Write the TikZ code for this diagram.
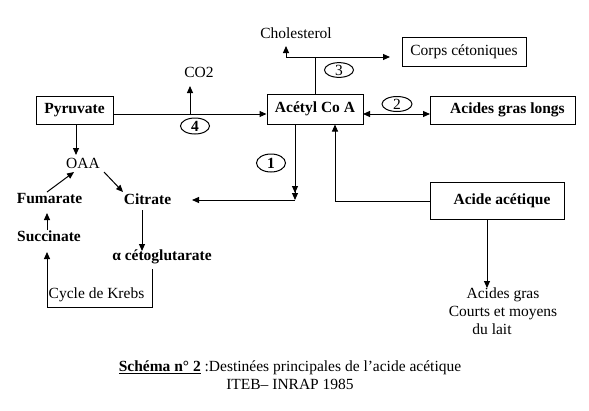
\documentclass[tikz,border=0pt]{standalone}
\usepackage{fontspec}
\setmainfont{Liberation Serif}
\usetikzlibrary{arrows.meta,calc,shapes.geometric}
\begin{document}
\begin{tikzpicture}[x=1pt,y=-1pt,
  every node/.style={font=\fontsize{15.5}{18}\selectfont, inner sep=0pt},
  box/.style={draw, line width=1pt},
  bt/.style={font=\fontsize{15.5}{18}\selectfont\bfseries},
  num/.style={draw, ellipse, line width=1pt, minimum width=29pt, minimum height=16pt},
  arr/.style={line width=1pt, -{Triangle[length=7pt,width=6pt]}},
  darr/.style={line width=1pt, {Triangle[length=7pt,width=6pt]}-{Triangle[length=7pt,width=6pt]}},
  ln/.style={line width=1pt}]
\useasboundingbox (0,0) rectangle (589,410);
\fill[white] (0,0) rectangle (589,410);
% boxes
\node[box,bt,minimum width=77pt,minimum height=28pt] (pyr) at (74.5,110) {Pyruvate};
\node[box,bt,minimum width=96pt,minimum height=30pt] (acetyl) at (315,109) {Acétyl Co A};
\node[box,bt,minimum width=145pt,minimum height=28pt] (agl) at (502.5,110) {\hspace*{10pt}Acides gras longs};
\node[box,minimum width=124pt,minimum height=29pt] (corps) at (464,51.5) {Corps cétoniques};
\node[box,bt,minimum width=134pt,minimum height=37pt] (acide) at (497,200.5) {\hspace*{10pt}Acide acétique};
% texts
\node (chol) at (296,33) {Cholesterol};
\node (co2) at (199,72) {CO2};
\node (oaa) at (83,163) {OAA};
\node[bt] (fum) at (49.5,199) {Fumarate};
\node[bt] (cit) at (147.5,199) {Citrate};
\node[bt] (suc) at (49,236) {Succinate};
\node[bt] (aceto) at (162,257) {α cétoglutarate};
\node (krebs) at (96.5,295) {Cycle de Krebs};
\node[align=center, anchor=north] (agcm) at (503,288) {Acides gras\\Courts et moyens\\du lait\hspace*{22pt}};
\node[align=center] (cap) at (290,375.5) {\underline{\textbf{Schéma n° 2}} :Destinées principales de l’acide acétique\\ITEB– INRAP 1985};
% numbered ellipses
\node[num,bt] (e4) at (195,126) {4};
\node[num,bt,minimum height=18pt] (e1) at (271,163) {1};
\node[num,minimum height=14pt] (e3) at (339,70) {3};
\node[num,minimum width=30pt,minimum height=15pt] (e2) at (397,104) {2};
% coordinates
\coordinate (pyrout) at (pyr.east |- 0,114);
\coordinate (acin) at (acetyl.west |- 0,114);
\coordinate (co2base) at (190,114);
\coordinate (co2tip) at (190,86);
\coordinate (pyrdown) at (76,124);
\coordinate (oaatop) at (76,155);
\coordinate (fumout) at (47,192);
\coordinate (oaain) at (74,172);
\coordinate (oaaout) at (104,172);
\coordinate (citin) at (123,192);
\coordinate (acdown) at (295,124);
\coordinate (junc) at (295,200);
\coordinate (citright) at (192,200);
\coordinate (acup) at (315,94);
\coordinate (tjunc) at (315,57);
\coordinate (tleft) at (286,57);
\coordinate (cholin) at (286,46);
\coordinate (corpsin) at (390,57);
\coordinate (acright) at (363,114);
\coordinate (aglin) at (430,114);
\coordinate (acidein) at (acetyl.south -| 335,0);
\coordinate (acideout) at (430,201);
\coordinate (acidedown) at (487,219);
\coordinate (citdown) at (142,210);
\coordinate (acetoin) at (142,251);
\coordinate (acetoout) at (152,269);
\coordinate (sucin) at (47,252);
\coordinate (sucout) at (47,230);
\coordinate (fumin) at (47,213);
% connectors
\draw[arr] (pyrout) -- (acin);
\draw[arr] (co2base) -- (co2tip);
\draw[arr] (pyrdown) -- (oaatop);
\draw[arr] (fumout) -- (oaain);
\draw[arr] (oaaout) -- (citin);
\draw[ln, -{Triangle[length=7pt,width=6pt]Triangle[length=7pt,width=6pt]}] (acdown) -- (junc);
\draw[arr] (junc) -- (citright);
\draw[ln] (acup) -- (tjunc);
\draw[arr] (tleft) -- (corpsin);
\draw[arr] (tleft) -- (cholin);
\draw[darr] (acright) -- (aglin);
\draw[arr] (acideout) -| (acidein);
\draw[arr] (acidedown) -- (agcm.north -| acidedown);
\draw[arr] (citdown) -- (acetoin);
\draw[arr] (acetoout) -- (152,307) -| (sucin);
\draw[arr] (sucout) -- (fumin);
\end{tikzpicture}
\end{document}
